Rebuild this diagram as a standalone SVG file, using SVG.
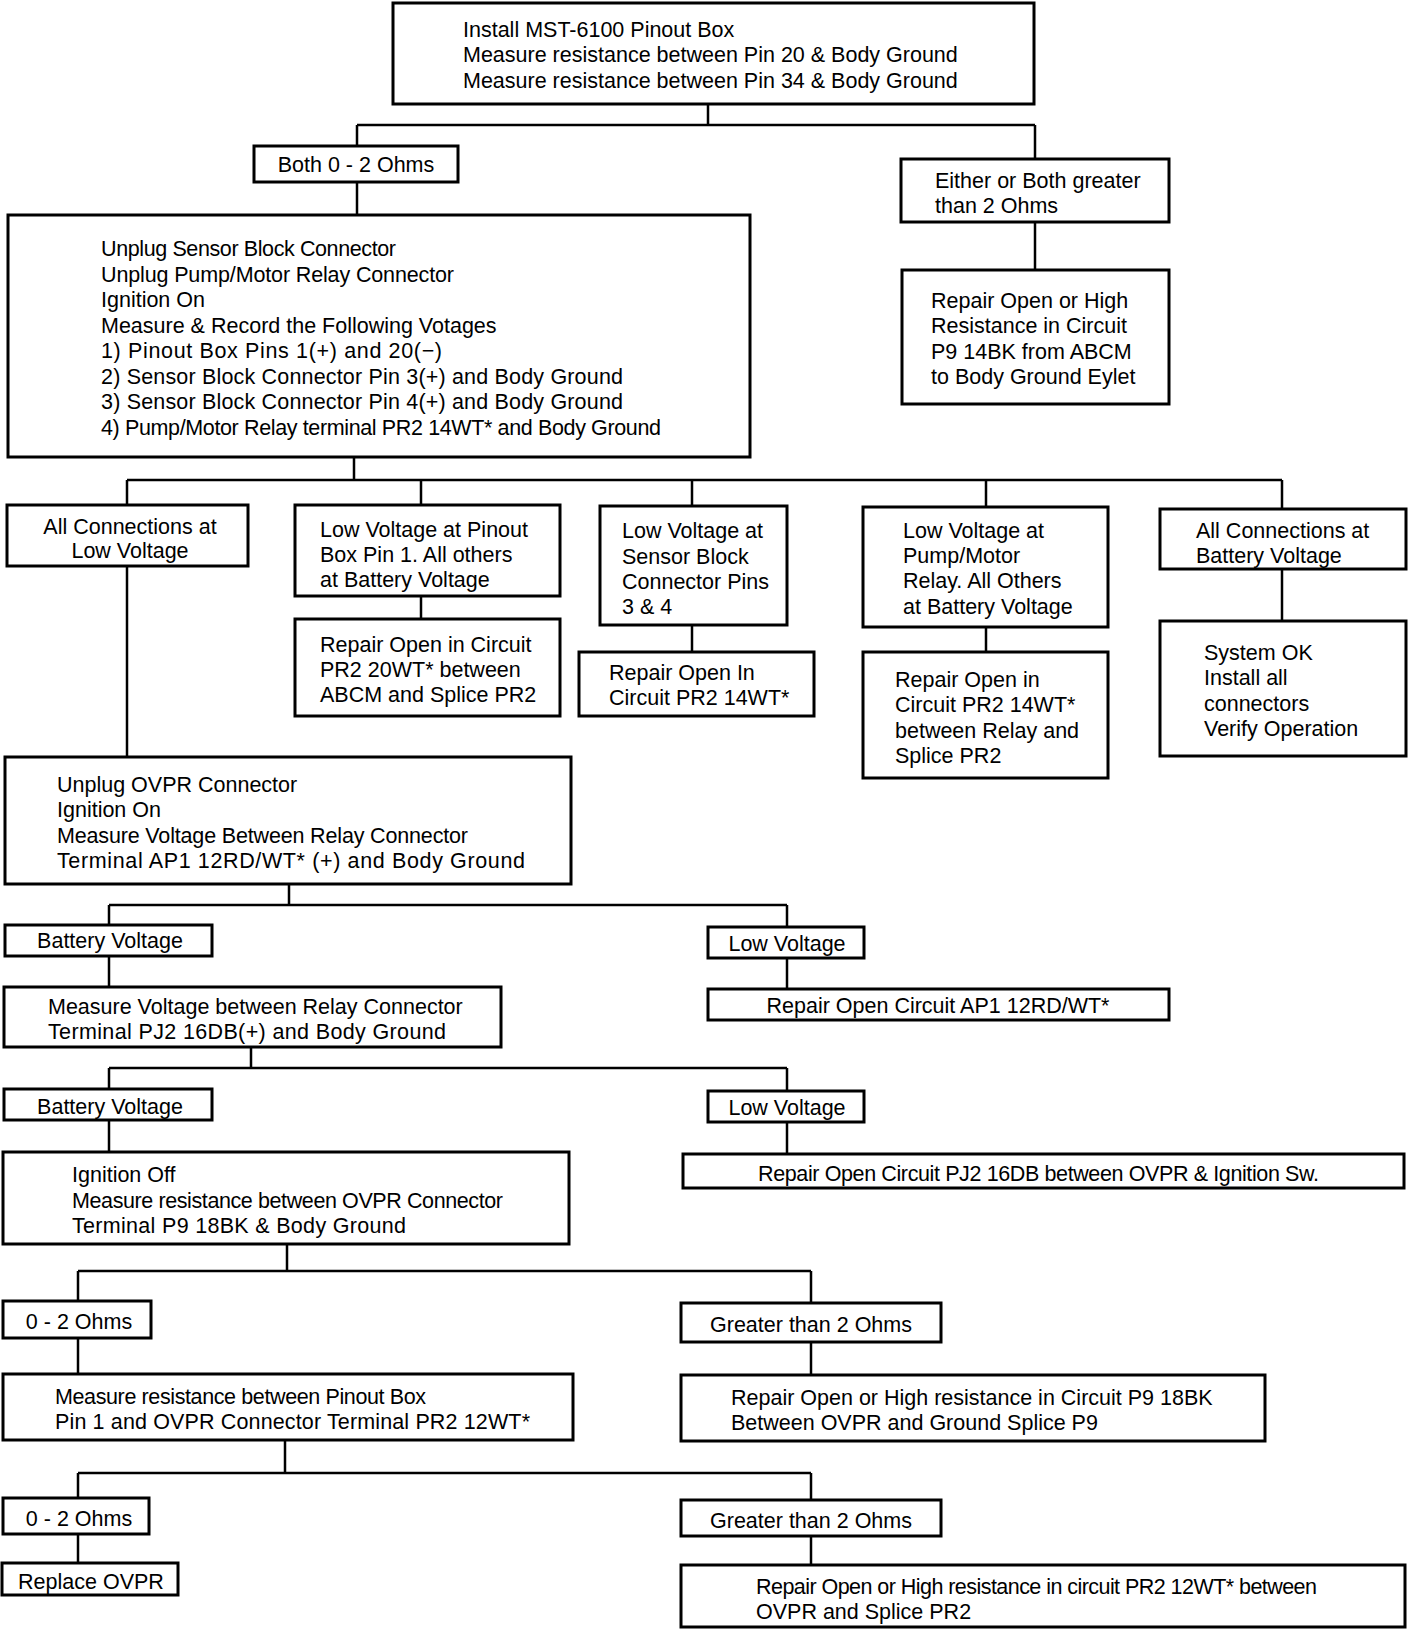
<svg xmlns="http://www.w3.org/2000/svg" width="1408" height="1630" viewBox="0 0 1408 1630">
<style>
rect.b{fill:#fff;stroke:#000;stroke-width:3}
#connectors path{fill:none;stroke:#000;stroke-width:2.5}
text{font-family:"Liberation Sans",Arial,sans-serif;font-size:21.5px;fill:#000}
text.c{text-anchor:middle}
</style>
<rect width="1408" height="1630" fill="#fff"/>
<g id="connectors">
<path d="M708 104V125M357 125H1035M357 125V146M1035 125V159"/>
<path d="M357 182V215"/>
<path d="M1035 222V270"/>
<path d="M354 457V480M127 480H1282M127 480V505M421 480V505M692 480V506M986 480V507M1282 480V509"/>
<path d="M127 566V757"/>
<path d="M421 596V619"/>
<path d="M692 625V652"/>
<path d="M986 627V652"/>
<path d="M1282 569V621"/>
<path d="M289 884V905M109 905H787M109 905V925M787 905V927"/>
<path d="M109 956V987"/>
<path d="M787 958V989"/>
<path d="M251 1047V1068M109 1068H787M109 1068V1089M787 1068V1091"/>
<path d="M109 1120V1152"/>
<path d="M787 1122V1154"/>
<path d="M287 1244V1271M78 1271H811M78 1271V1301M811 1271V1303"/>
<path d="M78 1338V1374"/>
<path d="M811 1342V1375"/>
<path d="M285 1440V1473M78 1473H811M78 1473V1498M811 1473V1500"/>
<path d="M78 1534V1563"/>
<path d="M811 1536V1565"/>
</g>
<g id="n1"><rect class="b" x="393" y="3" width="641" height="101"/>
<text x="463" y="37">Install MST-6100 Pinout Box</text>
<text x="463" y="62">Measure resistance between Pin 20 &amp; Body Ground</text>
<text x="463" y="88">Measure resistance between Pin 34 &amp; Body Ground</text></g>
<g id="n2"><rect class="b" x="254" y="146" width="204" height="36"/>
<text class="c" x="356" y="172">Both 0 - 2 Ohms</text></g>
<g id="n3"><rect class="b" x="901" y="159" width="268" height="63"/>
<text x="935" y="188">Either or Both greater</text>
<text x="935" y="213">than 2 Ohms</text></g>
<g id="n4"><rect class="b" x="902" y="270" width="267" height="134"/>
<text x="931" y="308">Repair Open or High</text>
<text x="931" y="333">Resistance in Circuit</text>
<text x="931" y="359">P9 14BK from ABCM</text>
<text x="931" y="384">to Body Ground Eylet</text></g>
<g id="n5"><rect class="b" x="8" y="215" width="742" height="242"/>
<text x="101" y="256" textLength="295">Unplug Sensor Block Connector</text>
<text x="101" y="282" textLength="353">Unplug Pump/Motor Relay Connector</text>
<text x="101" y="307">Ignition On</text>
<text x="101" y="333">Measure &amp; Record the Following Votages</text>
<text x="101" y="358" textLength="341">1) Pinout Box Pins 1(+) and 20(−)</text>
<text x="101" y="384" textLength="522">2) Sensor Block Connector Pin 3(+) and Body Ground</text>
<text x="101" y="409" textLength="522">3) Sensor Block Connector Pin 4(+) and Body Ground</text>
<text x="101" y="435" textLength="560">4) Pump/Motor Relay terminal PR2 14WT* and Body Ground</text></g>
<g id="n6"><rect class="b" x="7" y="505" width="241" height="61"/>
<text class="c" x="130" y="534">All Connections at</text>
<text class="c" x="130" y="558">Low Voltage</text></g>
<g id="n7"><rect class="b" x="295" y="505" width="265" height="91"/>
<text x="320" y="537">Low Voltage at Pinout</text>
<text x="320" y="562">Box Pin 1. All others</text>
<text x="320" y="587">at Battery Voltage</text></g>
<g id="n8"><rect class="b" x="295" y="619" width="265" height="97"/>
<text x="320" y="652">Repair Open in Circuit</text>
<text x="320" y="677">PR2 20WT* between</text>
<text x="320" y="702">ABCM and Splice PR2</text></g>
<g id="n9"><rect class="b" x="600" y="506" width="187" height="119"/>
<text x="622" y="538">Low Voltage at</text>
<text x="622" y="564">Sensor Block</text>
<text x="622" y="589">Connector Pins</text>
<text x="622" y="614">3 &amp; 4</text></g>
<g id="n10"><rect class="b" x="579" y="652" width="235" height="64"/>
<text x="609" y="680">Repair Open In</text>
<text x="609" y="705">Circuit PR2 14WT*</text></g>
<g id="n11"><rect class="b" x="863" y="507" width="245" height="120"/>
<text x="903" y="538">Low Voltage at</text>
<text x="903" y="563">Pump/Motor</text>
<text x="903" y="588">Relay. All Others</text>
<text x="903" y="614">at Battery Voltage</text></g>
<g id="n12"><rect class="b" x="863" y="652" width="245" height="126"/>
<text x="895" y="687">Repair Open in</text>
<text x="895" y="712">Circuit PR2 14WT*</text>
<text x="895" y="738">between Relay and</text>
<text x="895" y="763">Splice PR2</text></g>
<g id="n13"><rect class="b" x="1160" y="509" width="246" height="60"/>
<text x="1196" y="538">All Connections at</text>
<text x="1196" y="563">Battery Voltage</text></g>
<g id="n14"><rect class="b" x="1160" y="621" width="246" height="135"/>
<text x="1204" y="660">System OK</text>
<text x="1204" y="685">Install all</text>
<text x="1204" y="711">connectors</text>
<text x="1204" y="736">Verify Operation</text></g>
<g id="n15"><rect class="b" x="5" y="757" width="566" height="127"/>
<text x="57" y="792">Unplug OVPR Connector</text>
<text x="57" y="817">Ignition On</text>
<text x="57" y="843" textLength="411">Measure Voltage Between Relay Connector</text>
<text x="57" y="868" textLength="468">Terminal AP1 12RD/WT* (+) and Body Ground</text></g>
<g id="n16"><rect class="b" x="5" y="925" width="207" height="31"/>
<text class="c" x="110" y="948">Battery Voltage</text></g>
<g id="n17"><rect class="b" x="708" y="927" width="156" height="31"/>
<text class="c" x="787" y="951">Low Voltage</text></g>
<g id="n18"><rect class="b" x="708" y="989" width="461" height="31"/>
<text class="c" x="938" y="1013">Repair Open Circuit AP1 12RD/WT*</text></g>
<g id="n19"><rect class="b" x="4" y="987" width="497" height="60"/>
<text x="48" y="1014">Measure Voltage between Relay Connector</text>
<text x="48" y="1039" textLength="398">Terminal PJ2 16DB(+) and Body Ground</text></g>
<g id="n20"><rect class="b" x="4" y="1089" width="208" height="31"/>
<text class="c" x="110" y="1114">Battery Voltage</text></g>
<g id="n21"><rect class="b" x="708" y="1091" width="156" height="31"/>
<text class="c" x="787" y="1115">Low Voltage</text></g>
<g id="n22"><rect class="b" x="683" y="1154" width="721" height="34"/>
<text x="758" y="1181" textLength="561">Repair Open Circuit PJ2 16DB between OVPR &amp; Ignition Sw.</text></g>
<g id="n23"><rect class="b" x="3" y="1152" width="566" height="92"/>
<text x="72" y="1182">Ignition Off</text>
<text x="72" y="1208" textLength="431">Measure resistance between OVPR Connector</text>
<text x="72" y="1233" textLength="334">Terminal P9 18BK &amp; Body Ground</text></g>
<g id="n24"><rect class="b" x="3" y="1301" width="148" height="37"/>
<text class="c" x="79" y="1329">0 - 2 Ohms</text></g>
<g id="n25"><rect class="b" x="681" y="1303" width="260" height="39"/>
<text class="c" x="811" y="1332">Greater than 2 Ohms</text></g>
<g id="n26"><rect class="b" x="3" y="1374" width="570" height="66"/>
<text x="55" y="1404" textLength="371">Measure resistance between Pinout Box</text>
<text x="55" y="1429" textLength="475">Pin 1 and OVPR Connector Terminal PR2 12WT*</text></g>
<g id="n27"><rect class="b" x="681" y="1375" width="584" height="66"/>
<text x="731" y="1405">Repair Open or High resistance in Circuit P9 18BK</text>
<text x="731" y="1430">Between OVPR and Ground Splice P9</text></g>
<g id="n28"><rect class="b" x="3" y="1498" width="146" height="36"/>
<text class="c" x="79" y="1526">0 - 2 Ohms</text></g>
<g id="n29"><rect class="b" x="2" y="1563" width="176" height="32"/>
<text class="c" x="91" y="1589">Replace OVPR</text></g>
<g id="n30"><rect class="b" x="681" y="1500" width="260" height="36"/>
<text class="c" x="811" y="1528">Greater than 2 Ohms</text></g>
<g id="n31"><rect class="b" x="681" y="1565" width="724" height="62"/>
<text x="756" y="1594" textLength="561">Repair Open or High resistance in circuit PR2 12WT* between</text>
<text x="756" y="1619">OVPR and Splice PR2</text></g>
</svg>
